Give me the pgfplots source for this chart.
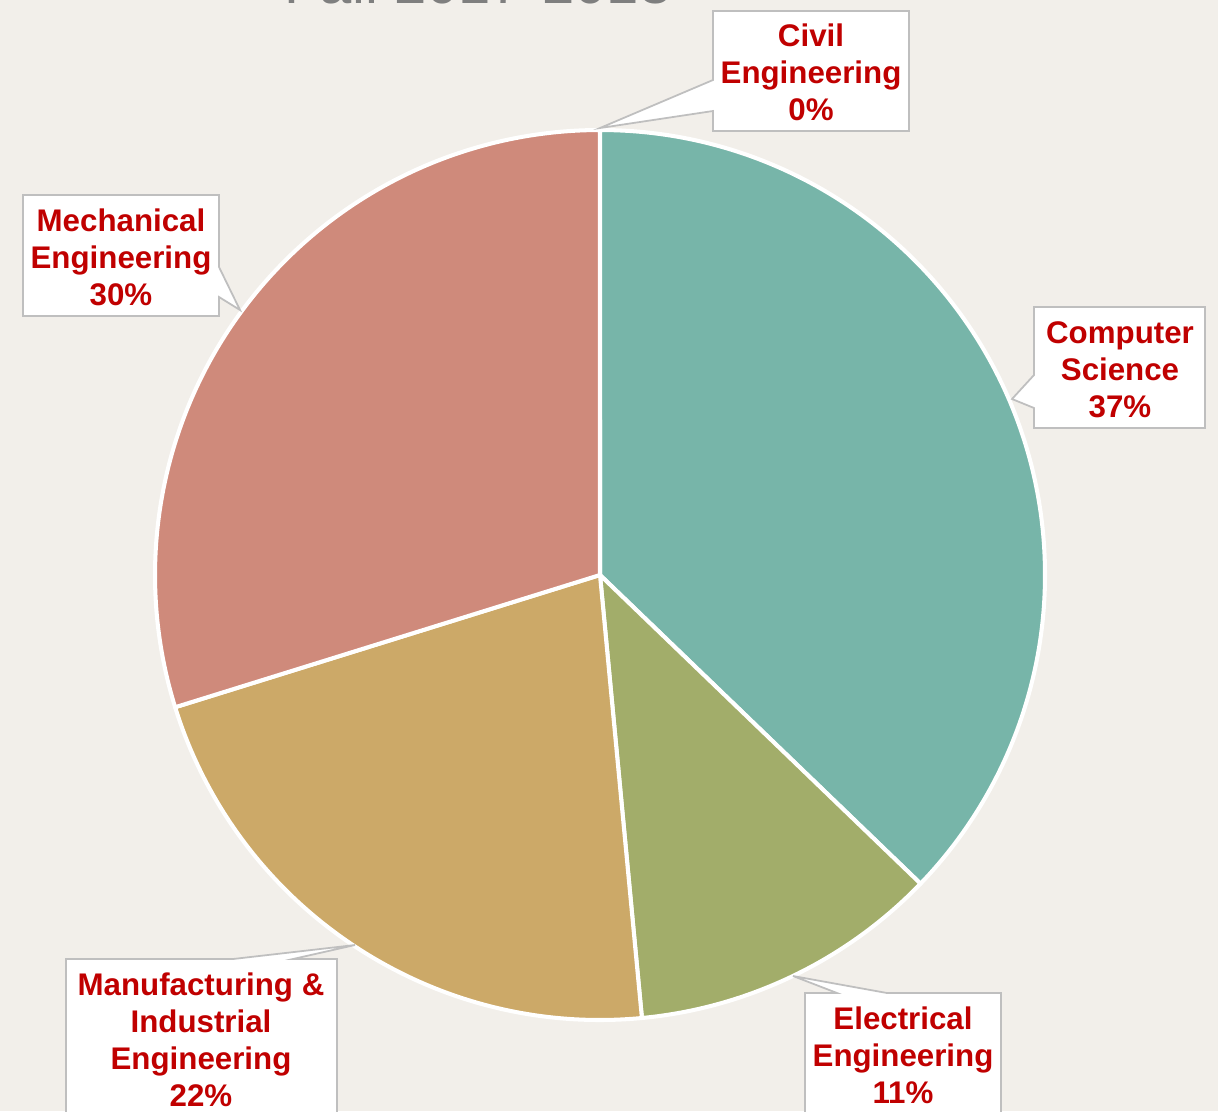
\documentclass[border=0pt]{standalone}
\usepackage{pgfplots}
\pgfplotsset{compat=1.18}
\usepackage{pgfplotstable}
\usepackage{fontspec}
\setmainfont{Liberation Sans}
\definecolor{bg}{HTML}{F2EFEA}
\definecolor{csc}{HTML}{77B5A9}
\definecolor{eec}{HTML}{A2AD6A}
\definecolor{miec}{HTML}{CCA968}
\definecolor{mec}{HTML}{CF8A7B}
\definecolor{lbl}{HTML}{C00000}
\definecolor{boxb}{HTML}{BFBFBF}
\definecolor{ttl}{HTML}{7F7F7F}

\pgfplotstableread{
dept value
Civil 0.0
CS 37.2
EE 11.3
MIE 21.7
ME 29.8
}\piedata

\pgfplotstablegetelem{0}{value}\of\piedata\edef\vA{\pgfplotsretval}
\pgfplotstablegetelem{1}{value}\of\piedata\edef\vB{\pgfplotsretval}
\pgfplotstablegetelem{2}{value}\of\piedata\edef\vC{\pgfplotsretval}
\pgfplotstablegetelem{3}{value}\of\piedata\edef\vD{\pgfplotsretval}
\pgfplotstablegetelem{4}{value}\of\piedata\edef\vE{\pgfplotsretval}
\pgfmathsetmacro\total{\vA+\vB+\vC+\vD+\vE}
\pgfmathsetmacro\aA{0}
\pgfmathsetmacro\aB{\aA+\vA/\total*360}
\pgfmathsetmacro\aC{\aB+\vB/\total*360}
\pgfmathsetmacro\aD{\aC+\vC/\total*360}
\pgfmathsetmacro\aE{\aD+\vD/\total*360}
\pgfmathsetmacro\aF{\aE+\vE/\total*360}
\def\R{8.9cm}

\tikzset{lab/.style={text=lbl, align=center, font=\fontsize{17.8}{21}\selectfont\bfseries},
  callout/.style={fill=white, draw=boxb, line width=1pt},
  slice/.style={draw=white, line width=2.3pt, line join=round}}

\begin{document}
\begin{tikzpicture}
\useasboundingbox (0,0) rectangle (24.36cm,22.22cm);
\fill[bg] (0,0) rectangle (24.36cm,22.22cm);
\begin{axis}[
  at={(0,0)}, anchor=south west,
  width=24.36cm, height=22.22cm, scale only axis,
  xmin=0, xmax=1218, ymin=0, ymax=1111, y dir=reverse,
  hide axis, clip=false]
\addplot[draw=none] coordinates {(0,0) (1218,1111)};
% title (cut off at top, as in the reference)
\node[anchor=base, text=ttl, font=\fontsize{33}{38}\selectfont] at (axis cs:478,3) {Fall 2017-2018};
% slices
\fill[csc, slice] (axis cs:600,575) -- +({90-\aB}:\R) arc[start angle={90-\aB}, end angle={90-\aC}, radius=\R] -- cycle;
\fill[eec, slice] (axis cs:600,575) -- +({90-\aC}:\R) arc[start angle={90-\aC}, end angle={90-\aD}, radius=\R] -- cycle;
\fill[miec, slice] (axis cs:600,575) -- +({90-\aD}:\R) arc[start angle={90-\aD}, end angle={90-\aE}, radius=\R] -- cycle;
\fill[mec, slice] (axis cs:600,575) -- +({90-\aE}:\R) arc[start angle={90-\aE}, end angle={90-\aF}, radius=\R] -- cycle;
% callouts
\draw[callout] (axis cs:713,11) -- (axis cs:909,11) -- (axis cs:909,131) -- (axis cs:713,131) -- (axis cs:713,111) -- (axis cs:600,128) -- (axis cs:713,80) -- cycle;
\node[lab] at (axis cs:811,72) {Civil\\Engineering\\0\%};
\draw[callout] (axis cs:1034,307) -- (axis cs:1205,307) -- (axis cs:1205,428) -- (axis cs:1034,428) -- (axis cs:1034,408) -- (axis cs:1012,399) -- (axis cs:1034,375) -- cycle;
\node[lab] at (axis cs:1120,370) {Computer\\Science\\37\%};
\draw[callout] (axis cs:23,195) -- (axis cs:219,195) -- (axis cs:219,267) -- (axis cs:240,310) -- (axis cs:219,297) -- (axis cs:219,316) -- (axis cs:23,316) -- cycle;
\node[lab] at (axis cs:121,257) {Mechanical\\Engineering\\30\%};
\draw[callout] (axis cs:66,959) -- (axis cs:233,959) -- (axis cs:355,945) -- (axis cs:293,959) -- (axis cs:337,959) -- (axis cs:337,1130) -- (axis cs:66,1130) -- cycle;
\node[lab] at (axis cs:201,1040) {Manufacturing \&\\Industrial\\Engineering\\22\%};
\draw[callout] (axis cs:805,993) -- (axis cs:837,993) -- (axis cs:793,976) -- (axis cs:887,993) -- (axis cs:1001,993) -- (axis cs:1001,1130) -- (axis cs:805,1130) -- cycle;
\node[lab] at (axis cs:903,1055) {Electrical\\Engineering\\11\%};
\end{axis}
\end{tikzpicture}
\end{document}
